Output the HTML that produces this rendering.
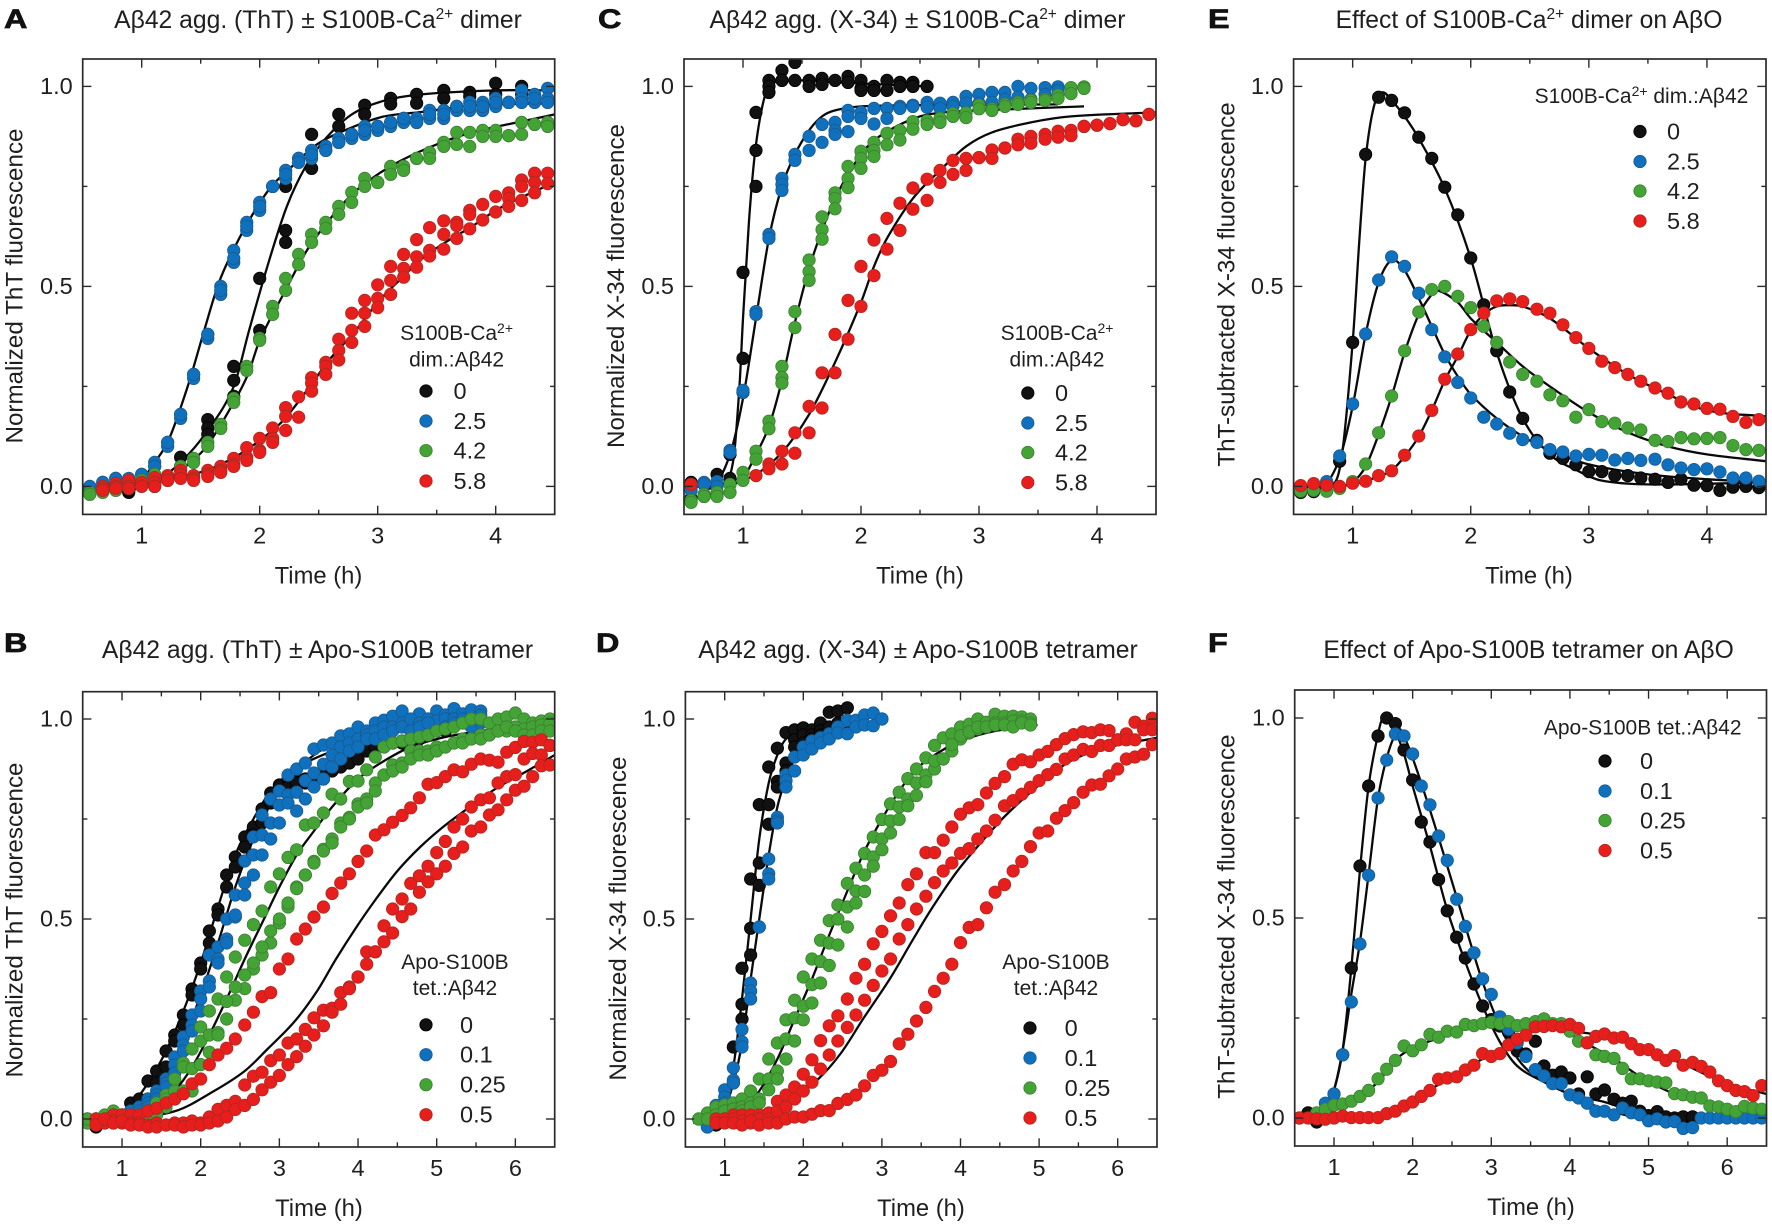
<!DOCTYPE html>
<html lang="en">
<head>
<meta charset="utf-8">
<title>Aβ42 aggregation kinetics with S100B</title>
<style>
html,body{margin:0;padding:0;background:#fff;width:1772px;height:1227px;overflow:hidden}
svg{display:block}
text{font-family:"Liberation Sans",Arial,sans-serif;fill:#1f1f1f}
.title{font-size:24.7px;text-anchor:middle}
.ylab{font-size:24.2px;text-anchor:middle}
.lt{font-size:21px;text-anchor:middle}
.letter{font-size:27px;font-weight:bold;fill:#111;stroke:#111;stroke-width:.7px}
</style>
</head>
<body>
<svg id="fig" xmlns="http://www.w3.org/2000/svg" width="1772" height="1227" viewBox="0 0 1772 1227">
<rect width="1772" height="1227" fill="#fff"/>
<defs>
<clipPath id="clip-A"><rect x="82.7" y="59" width="472" height="455.4"/></clipPath>
<clipPath id="clip-B"><rect x="82.7" y="691.7" width="472" height="455.3"/></clipPath>
<clipPath id="clip-C"><rect x="684" y="59" width="472" height="455.4"/></clipPath>
<clipPath id="clip-D"><rect x="685.4" y="691.7" width="471.6" height="455.3"/></clipPath>
<clipPath id="clip-E"><rect x="1293.6" y="59" width="472.4" height="455.4"/></clipPath>
<clipPath id="clip-F"><rect x="1294.7" y="690" width="471.8" height="456"/></clipPath>
</defs>

<text class="letter" x="0" y="0" transform="translate(4 28) scale(1.2 1)">A</text>
<text class="letter" x="0" y="0" transform="translate(598 28) scale(1.2 1)">C</text>
<text class="letter" x="0" y="0" transform="translate(1208 28) scale(1.2 1)">E</text>
<text class="letter" x="0" y="0" transform="translate(4 652) scale(1.2 1)">B</text>
<text class="letter" x="0" y="0" transform="translate(596 652) scale(1.2 1)">D</text>
<text class="letter" x="0" y="0" transform="translate(1208 652) scale(1.2 1)">F</text>

<text class="title" x="318" y="28">Aβ42 agg. (ThT) ± S100B-Ca<tspan dy="-9" font-size="15.5">2+</tspan><tspan dy="9"> dimer</tspan></text>
<text class="title" x="917.5" y="28">Aβ42 agg. (X-34) ± S100B-Ca<tspan dy="-9" font-size="15.5">2+</tspan><tspan dy="9"> dimer</tspan></text>
<text class="title" x="1529" y="28">Effect of S100B-Ca<tspan dy="-9" font-size="15.5">2+</tspan><tspan dy="9"> dimer on AβO</tspan></text>
<text class="title" x="317.5" y="658">Aβ42 agg. (ThT) ± Apo-S100B tetramer</text>
<text class="title" x="918" y="658">Aβ42 agg. (X-34) ± Apo-S100B tetramer</text>
<text class="title" x="1528.6" y="658">Effect of Apo-S100B tetramer on AβO</text>

<text class="ylab" transform="translate(22.5 286) rotate(-90)">Normalized ThT fluorescence</text>
<text class="ylab" transform="translate(624 286) rotate(-90)">Normalized X-34 fluorescence</text>
<text class="ylab" transform="translate(1234.5 284.5) rotate(-90)">ThT-subtracted X-34 fluorescence</text>
<text class="ylab" transform="translate(22.5 920) rotate(-90)">Normalized ThT fluorescence</text>
<text class="ylab" transform="translate(626 918.6) rotate(-90)">Normalized X-34 fluorescence</text>
<text class="ylab" transform="translate(1234.5 916.6) rotate(-90)">ThT-subtracted X-34 fluorescence</text>

<g id="plots"></g>

<text class="lt" x="456.6" y="340">S100B-Ca<tspan dy="-7" font-size="14">2+</tspan></text>
<text class="lt" x="456.6" y="366.5">dim.:Aβ42</text>
<text class="lt" x="1057" y="340">S100B-Ca<tspan dy="-7" font-size="14">2+</tspan></text>
<text class="lt" x="1057" y="366.5">dim.:Aβ42</text>
<text class="lt" x="1641.5" y="103">S100B-Ca<tspan dy="-7" font-size="14">2+</tspan><tspan dy="7"> dim.:Aβ42</tspan></text>
<text class="lt" x="455" y="969">Apo-S100B</text>
<text class="lt" x="455" y="995">tet.:Aβ42</text>
<text class="lt" x="1056" y="969">Apo-S100B</text>
<text class="lt" x="1056" y="995">tet.:Aβ42</text>
<text class="lt" x="1642.7" y="734.5">Apo-S100B tet.:Aβ42</text>
</svg>

<script>
// ---------- shared axis / label data ----------
const _ = null;
const times = [.56,.67,.78,.89,1.0,1.11,1.22,1.33,1.44,1.56,1.67,1.78,1.89,2.0,2.11,2.22,2.33,2.44,2.56,2.67,2.78,2.89,3.0,3.11,3.22,3.33,3.44,3.56,3.67,3.78,3.89,4.0,4.11,4.22,4.33,4.44,4.56,4.67,4.78,4.89,5.0,5.11,5.22,5.33,5.44,5.56,5.67,5.78,5.89,6.0,6.11,6.22,6.33,6.44];
const yTicks = [0, 0.5, 1];
const yMinorTicks = [0.25, 0.75];
const yTickLabels = ['0.0', '0.5', '1.0'];
const xTicksShort = [1, 2, 3, 4];
const xMinorShort = [1.5, 2.5, 3.5];
const xTicksLong = [1, 2, 3, 4, 5, 6];
const xMinorLong = [1.5, 2.5, 3.5, 4.5, 5.5];
const legendDimer = ['0', '2.5', '4.2', '5.8'];
const legendTetramer = ['0', '0.1', '0.25', '0.5'];

// ---------- panel A ----------
const aBlackT = [.89,1.11,1.33,1.56,1.78,2.0,2.22,2.44,2.67,2.89,3.11,3.33,3.56,3.78,4.0,4.22];
const aBlack = [
 [-.015,0,.073,.167,.30,.52,.75,.88,.93,.953,.97,.98,.99,.985,1.008,1.0],
 [-.01,.005,.05,.146,.265,.39,.64,.795,.90,.93,.956,.958,.97,.975,.98,.98],
 [_,_,_,.13,.225,_,.61]];
const aBlue = [
 [-.01,.01,.02,.02,.03,.06,.11,.18,.28,.38,.50,.59,.66,.71,.75,.79,.82,.84,.85,.87,.88,.90,.90,.91,.92,.92,.94,.94,.95,.96,.96,.97,.96,.99,.98,.995],
 [-.01,0,.01,.01,.02,.05,.10,.17,.27,.37,.48,.56,.64,.69,.75,.77,.82,.82,.84,.86,.87,.88,.89,.90,.91,.91,.92,.92,.94,.94,.94,.95,.96,.97,.96,.97],
 [0,.01,.02,.01,.03,.05,.11,.18,.28,.38,.49,.57,.65,.70,.75,.78,.81,.83,.84,.86,.88,.89,.90,.91,.92,.91,.93,.93,.95,.95,.95,.96,.96,.96,.97,.96]];
const aGreen = [
 [-.015,-.012,-.005,0,.015,.03,.025,.05,.07,.11,.155,.22,.30,.37,.45,.52,.58,.63,.66,.70,.735,.77,.76,.80,.80,.82,.835,.86,.885,.885,.89,.89,.877,.91,.905,.91],
 [-.02,-.015,-.01,-.005,.005,.02,.015,.04,.06,.10,.145,.21,.29,.365,.43,.49,.555,.61,.645,.68,.71,.75,.76,.78,.79,.82,.82,.85,.855,.85,.875,.875,.877,.88,.905,.90]];
const aRedT = times.slice(1, 36);
const aRed = [
 [0,.007,.015,.01,.022,.027,.04,.027,.04,.05,.07,.097,.12,.146,.197,.224,.272,.31,.368,.433,.465,.504,.55,.58,.617,.647,.664,.66,.69,.705,.725,.734,.766,.783,.783],
 [-.005,0,0,.01,.01,.022,.03,.02,.03,.04,.055,.073,.09,.12,.175,.173,.258,.30,.34,.39,.433,.47,.515,.545,.574,.59,.63,.652,.68,.666,.686,.72,.75,.76,.757],
 [-.01,-.005,-.005,0,0,.015,.02,.015,.025,.035,.05,.065,.085,.11,.14,_,.238,.28,.316,.36,.40,.447,.48,.523,.548,.576,.593,.62,.644,_,_,.70,.715,.734,_]];
const aBlackFitT = [.56,.89,1.1,1.33,1.56,1.78,1.91,2.07,2.23,2.39,2.56,2.78,3.04,3.37,4.0,4.5];
const aBlackFitY = [-.01,-.01,.01,.06,.14,.25,.39,.555,.70,.80,.87,.93,.963,.98,.99,.99];
const aBlueFitT = [.56,1.0,1.11,1.23,1.39,1.52,1.65,1.78,1.94,2.1,2.3,2.49,2.72,3.04,3.37,3.85,4.5];
const aBlueFitY = [0,.02,.06,.117,.25,.38,.506,.593,.68,.75,.807,.856,.89,.924,.936,.953,.958];
const aGreenFitT = [.9,1.2,1.33,1.55,1.78,1.9,2.0,2.2,2.4,2.6,2.8,3.0,3.2,3.5,3.8,4.1,4.5];
const aGreenFitY = [.005,.015,.04,.10,.21,.28,.365,.48,.59,.67,.735,.78,.815,.855,.885,.905,.93];
const aRedFitT = [.56,1.0,1.33,1.55,1.8,2.0,2.2,2.4,2.6,2.8,3.0,3.2,3.4,3.6,3.8,4.0,4.2,4.5];
const aRedFitY = [-.01,.005,.025,.04,.075,.115,.165,.24,.32,.385,.46,.52,.575,.615,.65,.69,.72,.76];

// ---------- panel C ----------
const cBlackT = times.slice(0, 19);
const cBlack = [
 [.01,.005,.03,.08,.535,.935,1.015,1.04,1.06,1.015,1.02,1.015,1.025,1.015,1.0,1.015,1.01,1.01,1.0],
 [0,-.025,-.02,.02,.32,.84,1.0,1.015,1.015,1.0,1.005,_,1.01,.995,.99,.99,1.0,1.0,_],
 [-.03,_,_,_,.235,.75,.985,_,_,_,_,_,_,.99]];
const cBlueT = times.slice(0, 29);
const cBlue = [
 [0,.01,.012,.09,.235,.437,.63,.77,.83,.875,.905,.91,.94,.935,.945,.945,.95,.953,.96,.958,.96,.975,.98,.985,.985,1.0,.995,.997,.999],
 [-.01,.005,0,.085,.24,.43,.62,.755,.815,.84,.86,.89,.925,.92,.906,.92,.945,.95,.948,.945,.95,.958,.958,.96,.968,.973,.968,.98,.99],
 [_,_,_,_,_,_,_,.74,_,_,_,.88,.887]];
const cGreenT = times.slice(0, 31);
const cGreen = [
 [-.035,-.02,-.015,.005,.035,.088,.163,.30,.437,.566,.674,.734,.80,.838,.86,.883,.89,.912,.914,.92,.932,.934,.953,.944,.955,.96,.965,.968,.978,.997,.999],
 [-.04,-.025,-.025,-.015,.015,.068,.144,.272,.397,.537,.642,.72,.77,.82,.84,.854,.866,.893,.905,.91,.925,.922,.944,.94,.95,.955,.96,.965,.97,.982,.995],
 [_,_,_,_,_,_,_,.258,_,.515,.618,.694,.747,.795,.825]];
const cRed = [
 [.005,_,_,_,_,.027,.056,.088,.134,.20,.284,.38,.465,.55,.616,.67,.708,.746,.768,.79,.815,.82,.822,.841,.846,.868,.875,.88,.888,.89,.90,.903,.907,.917,.914,.93],
 [_,_,_,_,_,_,.044,.056,.083,.134,.196,.284,.368,.45,.527,.593,.64,.693,.715,.76,.78,.79,.822,.82,.846,.854,.858,.868,.873,.877,.90,.903,.907,.917,.914,.93]];
const cBlackFitT = [.6,.85,.92,.97,1.0,1.05,1.1,1.16,1.22,1.4,1.8,2.56];
const cBlackFitY = [0,.01,.07,.25,.42,.66,.83,.945,1.0,1.015,1.01,1.0];
const cBlueFitT = [.6,.75,.89,1.0,1.11,1.22,1.33,1.44,1.56,1.67,1.78,2.0,2.5,3.67];
const cBlueFitY = [0,0,.08,.22,.42,.62,.75,.83,.89,.925,.94,.95,.953,.955];
const cGreenFitT = [.89,1.0,1.11,1.22,1.33,1.44,1.56,1.67,1.78,1.89,2.0,2.11,2.3,2.5,2.7,3.0,3.89];
const cGreenFitY = [0,.02,.08,.15,.265,.41,.545,.64,.72,.78,.83,.865,.90,.925,.935,.94,.95];
const cRedFitT = [.9,1.11,1.33,1.56,1.78,2.0,2.11,2.22,2.44,2.67,2.89,3.11,3.44,3.78,4.5];
const cRedFitY = [.005,.03,.085,.18,.31,.46,.55,.62,.72,.79,.85,.885,.91,.925,.935];

// ---------- panel E ----------
const eBlack = [[-.015,-.013,.01,.063,.36,.83,.973,.965,.934,.873,.82,.748,.679,.571,.454,.339,.236,.17,.115,.083,.07,.054,.037,.037,.027,.027,.021,.018,.01,.018,.003,.002,-.01,-.002,0,-.003]];
const eBlue = [[_,_,.012,.076,.206,.381,.516,.574,.55,.483,.392,.324,.26,.221,.173,.156,.133,.117,.11,.092,.086,.076,.08,.078,.066,.07,.065,.068,.054,.046,.042,.044,.036,.021,.021,.013]];
const eGreen = [[-.012,-.01,-.012,-.005,.012,.056,.134,.226,.339,.436,.492,.50,.475,.447,.40,.36,.311,.28,.263,.229,.214,.173,.192,.162,.158,.146,.141,.115,.112,.122,.119,.12,.122,.102,.092,.09]];
const eRed = [[.002,.007,.003,0,.008,.013,.027,.039,.078,.126,.19,.268,.331,.392,.433,.464,.469,.462,.443,.433,.404,.372,.345,.313,.297,.28,.263,.246,.233,.211,.206,.195,.193,.175,.16,.167]];
const eBlackFitT = [.56,.8,.9,1.0,1.06,1.11,1.18,1.25,1.33,1.44,1.56,1.78,2.0,2.22,2.44,2.67,2.9,3.1,3.5,4.5];
const eBlackFitY = [0,0,.06,.36,.63,.82,.95,.985,.965,.925,.87,.745,.57,.335,.17,.08,.04,.015,.005,.01];
const eBlueFitT = [.56,.75,.89,1.0,1.11,1.22,1.33,1.44,1.56,1.67,1.78,1.89,2.0,2.22,2.44,2.67,3.0,3.5,4.0,4.5];
const eBlueFitY = [0,0,.07,.2,.38,.51,.565,.54,.47,.40,.33,.275,.23,.17,.125,.09,.055,.03,.018,.01];
const eGreenFitT = [.56,.9,1.0,1.11,1.22,1.33,1.44,1.56,1.67,1.72,1.89,2.0,2.22,2.44,2.67,3.0,3.33,3.67,4.0,4.5];
const eGreenFitY = [0,0,.01,.05,.13,.225,.335,.43,.48,.49,.46,.42,.36,.30,.25,.185,.135,.10,.08,.063];
const eRedFitT = [.56,1.0,1.22,1.33,1.44,1.56,1.67,1.78,1.89,2.0,2.11,2.22,2.33,2.44,2.67,3.0,3.33,3.67,4.0,4.5];
const eRedFitY = [0,.005,.025,.04,.075,.125,.19,.265,.325,.39,.43,.45,.453,.45,.42,.345,.28,.23,.19,.175];

// ---------- panel B ----------
const bBlack = [
 [_,-.02,0,0,.01,.04,.05,.095,.12,.17,.21,.26,.325,.39,.47,.525,.61,.655,.705,.73,.775,.815,.835,.85,.85,.85,.85,.86,.88,.89,.90,.925,.93,.93,.94,.94,.945,.95,.96,.97,.98,.98],
 [_,-.01,0,.01,.01,.02,.03,.05,.09,.13,.195,.235,.31,.375,.44,.51,.58,.63,.68,.71,.74,.79,.82,.83,.84,.84,.85,.85,.87,.88,.89,.90,.92,.93,.93,.94,.94,.95,.95,.96,.97,.97]];
const bBlue = [
 [0,0,0,0,.01,.02,.03,.05,.07,.10,.155,.205,.26,.32,.41,.43,.50,.56,.645,.705,.76,.80,.82,.86,.875,.89,.925,.935,.94,.958,.963,.98,.97,.99,.997,1.007,1.02,.99,1.013,1.0,1.02,1.01,1.026,1.013,1.023,1.02],
 [0,0,0,0,0,.01,.02,.04,.06,.09,.135,.185,.235,.30,.345,.40,.45,.505,.59,.66,.71,.74,.785,.81,.817,.846,.865,.887,.91,.93,.94,.95,.96,.97,.98,.98,.99,1.0,.99,1.0,.995,1.0,1.0,1.0,1.0,1.01],
 [0,0,0,0,0,0,.01,.03,.05,.08,.115,.17,.22,.27,.33,.39,.44,.51,.56,.61,.66,.70,.74,.79,.77,.80,.83,.85,.88,.90,.92,.93,.95,.95,.96,.97,.98,.97,.98,.99,.97,.98,.99,.99,.98,.99]];
const bGreen = [
 [0,0,.01,.02,.01,.01,.01,.02,.04,.06,.10,.14,.175,.23,.27,.30,.355,.405,.447,.486,.52,.58,.613,.654,.673,.735,.74,.765,.812,.80,.844,.845,.873,.905,.93,.94,.945,.95,.955,.96,.97,.975,.98,.99,1.0,1.0,.99,1.0,1.005,1.015,1.0,.99,.995,1.0],
 [-.01,0,0,0,0,0,0,.01,.02,.05,.07,.13,.126,.195,.21,.216,.25,.297,.326,.375,.41,.44,.49,.53,.58,.61,.644,.674,.70,.74,.754,.788,.80,.84,.86,.885,.89,.92,.92,.92,.93,.93,.94,.95,.95,.96,.96,.97,.97,.98,.975,.98,.985,.99],
 [0,0,-.01,-.01,0,0,0,0,.01,.03,.05,.07,.07,.136,.167,.21,.294,.33,.36,.39,.43,.47,.50,.54,.576,.61,.64,.67,.69,.73,.75,.78,.79,.82,.86,.87,.88,.90,.91,.91,.92,.93,.94,.94,.95,.95,.96,.97,.98,.97,.96,.96,.97,.97]];
const bRedT = times.slice(1);
const bRed = [
 [0,0,.01,.01,.01,.01,.02,.027,.04,.05,.063,.088,.10,.136,.16,.177,.20,.235,.267,.306,.316,.375,.40,.45,.475,.505,.53,.564,.59,.613,.644,.67,.71,.723,.742,.759,.778,.803,.837,.841,.856,.873,.868,.887,.90,.897,.892,.917,.929,.944,.942,.948,.934],
 [0,-.01,-.005,-.01,-.01,-.01,-.015,-.01,-.015,-.01,-.01,-.005,-.01,.005,.024,.034,.044,.085,.107,.117,.146,.16,.19,.20,.224,.253,.272,.277,.316,.33,.355,.418,.418,.483,.525,.55,.589,.608,.632,.666,.694,.73,.75,.78,.798,.803,.84,.856,.861,.90,.914,.91,.934],
 [-.015,0,-.01,-.005,-.015,-.015,-.02,-.02,-.015,-.015,-.02,-.015,-.015,-.01,-.005,.005,.024,.034,.049,.073,.092,.109,.136,.156,.182,.21,.233,.267,.287,.326,.355,.387,.418,.443,.465,.506,.525,.567,.593,.613,.632,.664,.68,.72,.73,.76,.773,.798,.822,.832,.856,.883,.885]];
const bBlackFitT = [.9,1.1,1.33,1.56,1.78,2.0,2.22,2.44,2.67,2.89,3.11,3.33,3.67,4.0,4.5,5.2];
const bBlackFitY = [0,.03,.09,.17,.27,.39,.53,.66,.75,.82,.86,.89,.92,.95,.97,.99];
const bBlueFitT = [1.0,1.33,1.56,1.78,2.0,2.22,2.44,2.67,2.89,3.11,3.44,3.89,4.5,5.6];
const bBlueFitY = [0,.05,.11,.20,.31,.44,.58,.70,.79,.85,.91,.96,.985,1.0];
const bGreenFitT = [1.1,1.44,1.67,1.89,2.11,2.33,2.56,2.78,3.0,3.22,3.44,3.67,4.0,4.33,4.67,5.11,5.56,6.5];
const bGreenFitY = [0,.03,.07,.13,.21,.30,.40,.49,.58,.66,.72,.78,.85,.895,.93,.955,.97,.995];
const bRedFitT = [1.0,1.68,2.17,2.56,2.85,3.19,3.48,3.72,3.97,4.21,4.5,4.79,5.08,5.37,5.76,6.15,6.5];
const bRedFitY = [0,.02,.07,.12,.175,.243,.32,.40,.477,.545,.62,.68,.73,.773,.827,.87,.91];

// ---------- panel D ----------
const dBlackT = times.slice(3, 19);
const dBlack = [
 [-.015,.03,.18,.377,.60,.786,.88,.927,.966,.973,.978,.973,.99,1.017,1.02,1.028],
 [-.01,.02,.09,.287,.477,.64,.786,.844,.89,.948,.96,.96,.97,.98,.99],
 [_,_,_,.25,.41,.584,.737,.83,.87,.93,.94,.95,.96]];
const dBlueT = times.slice(2, 23);
const dBlue = [
 [-.02,.034,.073,.128,.224,.34,.48,.65,.754,.86,.905,.93,.945,.953,.963,.98,.997,.997,1.01,1.015,1.0],
 [-.015,.02,.055,.097,.193,.32,.48,.613,.745,.846,.87,.91,.925,.94,.95,.965,.963,.98,.985,.983,1.0],
 [-.02,.01,.04,.09,.18,.30,_,.60,.74,.83]];
const dGreenT = times.slice(1, 41);
const dGreen = [
 [0,.015,.03,.035,.04,.05,.07,.10,.15,.19,.20,.297,.355,.40,.447,.496,.535,.589,.627,.664,.705,.749,.788,.817,.851,.875,.903,.934,.953,.963,.98,.987,1.0,.992,1.012,1.007,1.007,1.005,1.0,_],
 [0,0,.01,.02,.025,.03,.04,.05,.10,.12,.248,.253,.282,.336,.394,.44,.50,.53,.57,.61,.655,.70,.745,.78,.80,.84,.86,.875,.90,.92,.95,.965,.975,.98,.99,.99,.995,.995,.99,_],
 [0,0,0,0,.01,.02,.03,.04,.073,.10,.15,.195,.248,.29,.34,.384,.435,.48,.54,.569,.632,.673,.715,.749,.783,.809,.843,.895,.90,.936,.958,.968,.98,.98,.985,.985,.98,.99,.985,_]];
const dRedT = times.slice(3);
const dRed = [
 [0,0,.01,.01,.01,.01,.015,.044,.06,.08,.112,.148,.196,.233,.258,.30,.352,.387,.438,.469,.508,.54,.586,.613,.666,.666,.697,.73,.762,.778,.786,.815,.839,.856,.887,.898,.893,.91,.919,.936,.951,.961,.968,.966,.973,.971,.948,.963,.992,.982,1.002],
 [0,0,0,-.005,-.01,0,0,.02,.03,.05,.07,.092,.125,.16,.195,.229,.26,.297,.334,.37,.40,.45,.486,.525,.557,.591,.62,.64,.664,.676,.70,.72,.747,.783,.796,.812,.829,.846,.861,.874,.90,.91,.924,.919,.934,.934,.948,.948,.948,.973,.973],
 [-.01,-.01,-.01,-.015,-.005,-.015,-.01,-.01,0,.005,.005,.012,.021,.021,.039,.049,.06,.083,.109,.122,.144,.188,.212,.245,.279,.319,.352,.387,.441,.479,.486,.528,.567,.586,.62,.644,.681,.715,.72,.752,.771,.791,.817,.835,.837,.858,.875,.90,.905,.912,.936]];
const dBlackFitT = [.6,.89,1.0,1.11,1.22,1.33,1.44,1.56,1.67,1.78,2.0,2.56];
const dBlackFitY = [-.01,0,.03,.13,.30,.50,.70,.84,.91,.95,.975,.99];
const dBlueFitT = [.7,1.0,1.11,1.22,1.33,1.44,1.56,1.67,1.78,1.89,2.0,2.3,3.0];
const dBlueFitY = [-.01,.03,.09,.19,.35,.50,.66,.78,.85,.90,.925,.965,.995];
const dGreenFitT = [.9,1.2,1.44,1.67,1.89,2.11,2.33,2.56,2.78,3.0,3.22,3.44,3.67,4.0,4.44,4.98];
const dGreenFitY = [0,.02,.07,.15,.25,.35,.46,.57,.67,.75,.82,.875,.91,.945,.97,.985];
const dRedFitT = [1.0,1.78,2.19,2.48,2.77,3.1,3.39,3.63,3.96,4.3,4.58,4.97,5.4,5.88,6.5];
const dRedFitY = [0,.04,.10,.165,.253,.35,.447,.525,.62,.70,.76,.83,.895,.929,.953];

// ---------- panel F ----------
const fBlackT = times.slice(0, 46);
const fBlack = [[0,.013,-.01,.02,.06,.158,.375,.63,.83,.955,1.0,.986,.92,.845,.74,.69,.596,.518,.452,.40,.335,.28,.246,.23,.214,.168,.16,.192,.13,.107,.115,.10,.06,.103,.06,.07,.047,.037,.042,.017,.006,.016,.003,0,.003,.003]];
const fBlueT = times.slice(3);
const fBlue = [[.037,.06,.158,.29,.435,.607,.80,.895,.96,.955,.91,.83,.783,.705,.644,.547,.479,.413,.348,.309,.253,.222,.188,.154,.121,.105,.086,.086,.058,.05,.037,.017,.017,.008,.025,.013,.008,-.007,-.002,-.01,-.009,-.026,-.024,0,0,0,0,0,0,0,0]];
const fGreenT = times.slice(2);
const fGreen = [[.013,.022,.032,.035,.042,.054,.069,.098,.122,.144,.18,.168,.183,.209,.202,.217,.215,.234,.231,.236,.239,.236,.241,.231,.236,.241,.248,.236,.236,.217,.192,.188,.158,.154,.149,.124,.098,.098,.093,.09,.088,.061,.058,.052,.05,.03,.028,.022,.016,.029,.025,.022]];
const fRed = [[0,0,-.002,-.003,0,.005,.001,.001,.001,.001,.011,.017,.03,.04,.054,.069,.097,.10,.103,.12,.132,.161,.154,.161,.183,.197,.207,.228,.229,.231,.228,.234,.224,.188,.204,.21,.20,.202,.186,.171,.171,.158,.144,.156,.132,.139,.129,.115,.093,.081,.069,.066,.056,.081]];
const fBlackFitT = [.56,.88,1.0,1.11,1.22,1.33,1.44,1.56,1.62,1.72,1.89,2.0,2.22,2.44,2.67,2.89,3.11,3.33,3.67,4.0,4.44,5.0,5.55];
const fBlackFitY = [0,.02,.07,.17,.375,.62,.83,.96,1.0,.995,.91,.83,.68,.52,.39,.28,.19,.13,.09,.06,.04,.005,0];
const fBlueFitT = [.75,.89,1.0,1.11,1.22,1.33,1.44,1.56,1.67,1.78,1.85,2.0,2.22,2.44,2.67,2.89,3.11,3.33,3.55,3.88,4.33,4.88,5.5,6.5];
const fBlueFitY = [0,.02,.07,.17,.31,.44,.61,.80,.90,.96,.97,.90,.77,.63,.48,.34,.23,.15,.105,.07,.03,0,-.01,0];
const fGreenFitT = [.56,.88,1.22,1.56,1.78,2.0,2.33,2.67,3.0,3.55,3.88,4.22,4.55,4.88,5.33,5.77,6.5];
const fGreenFitY = [0,.01,.04,.09,.145,.175,.20,.225,.24,.24,.225,.185,.15,.105,.06,.035,.015];
const fRedFitT = [.56,1.44,1.78,2.11,2.44,2.77,3.11,3.44,3.77,4.11,4.44,4.77,5.11,5.44,5.77,6.11,6.5];
const fRedFitY = [0,0,.02,.06,.095,.135,.17,.21,.225,.215,.205,.185,.16,.135,.105,.08,.06];

// ---------- panels: layout, then series references ----------
const seriesColors = ['#111111', '#0f70bd', '#43a435', '#e81e1c'];
const seriesEdges = ['#000000', '#1a5a8e', '#3d7d33', '#a82a22'];
const seriesNames = ['black', 'blue', 'green', 'red'];

const panels = [
 {id:'a', clip:'clip-A', left:82.7, right:554.7, top:59, bottom:514.4, y0:486.4, y1:86.4, xMin:.5, xMax:4.5, xt:xTicksShort, xm:xMinorShort,
  series:[{t:aBlackT,r:aBlack,ft:aBlackFitT,fy:aBlackFitY},{t:times,r:aBlue,ft:aBlueFitT,fy:aBlueFitY},{t:times,r:aGreen,ft:aGreenFitT,fy:aGreenFitY},{t:aRedT,r:aRed,ft:aRedFitT,fy:aRedFitY}],
  legend:legendDimer, lx:426, ly:[391,421,450.6,481], ltx:453.5, xtitle:318.5},
 {id:'b', clip:'clip-B', left:82.7, right:554.7, top:691.7, bottom:1147, y0:1119, y1:719, xMin:.5, xMax:6.5, xt:xTicksLong, xm:xMinorLong,
  series:[{t:times,r:bBlack,ft:bBlackFitT,fy:bBlackFitY},{t:times,r:bBlue,ft:bBlueFitT,fy:bBlueFitY},{t:times,r:bGreen,ft:bGreenFitT,fy:bGreenFitY},{t:bRedT,r:bRed,ft:bRedFitT,fy:bRedFitY}],
  legend:legendTetramer, lx:426, ly:[1024.8,1054.7,1084.7,1114.7], ltx:460, xtitle:319},
 {id:'c', clip:'clip-C', left:684, right:1156, top:59, bottom:514.4, y0:486.4, y1:86.4, xMin:.5, xMax:4.5, xt:xTicksShort, xm:xMinorShort,
  series:[{t:cBlackT,r:cBlack,ft:cBlackFitT,fy:cBlackFitY},{t:cBlueT,r:cBlue,ft:cBlueFitT,fy:cBlueFitY},{t:cGreenT,r:cGreen,ft:cGreenFitT,fy:cGreenFitY},{t:times,r:cRed,ft:cRedFitT,fy:cRedFitY}],
  legend:legendDimer, lx:1027.8, ly:[393,423,452.5,482.5], ltx:1055, xtitle:920},
 {id:'d', clip:'clip-D', left:685.4, right:1157, top:691.7, bottom:1147, y0:1119, y1:719, xMin:.5, xMax:6.5, xt:xTicksLong, xm:xMinorLong,
  series:[{t:dBlackT,r:dBlack,ft:dBlackFitT,fy:dBlackFitY},{t:dBlueT,r:dBlue,ft:dBlueFitT,fy:dBlueFitY},{t:dGreenT,r:dGreen,ft:dGreenFitT,fy:dGreenFitY},{t:dRedT,r:dRed,ft:dRedFitT,fy:dRedFitY}],
  legend:legendTetramer, lx:1030, ly:[1028,1058,1088,1118], ltx:1064.6, xtitle:921},
 {id:'e', clip:'clip-E', left:1293.6, right:1766, top:59, bottom:514.4, y0:486.4, y1:86.4, xMin:.5, xMax:4.5, xt:xTicksShort, xm:xMinorShort,
  series:[{t:times,r:eBlack,ft:eBlackFitT,fy:eBlackFitY},{t:times,r:eBlue,ft:eBlueFitT,fy:eBlueFitY},{t:times,r:eGreen,ft:eGreenFitT,fy:eGreenFitY},{t:times,r:eRed,ft:eRedFitT,fy:eRedFitY}],
  legend:legendDimer, lx:1640, ly:[131.5,161.5,191,221], ltx:1667, xtitle:1529},
 {id:'f', clip:'clip-F', left:1294.7, right:1766.5, top:690, bottom:1146, y0:1118, y1:718, xMin:.5, xMax:6.5, xt:xTicksLong, xm:xMinorLong,
  series:[{t:fBlackT,r:fBlack,ft:fBlackFitT,fy:fBlackFitY},{t:fBlueT,r:fBlue,ft:fBlueFitT,fy:fBlueFitY},{t:fGreenT,r:fGreen,ft:fGreenFitT,fy:fGreenFitY},{t:times,r:fRed,ft:fRedFitT,fy:fRedFitY}],
  legend:legendTetramer, lx:1605, ly:[761,791,820.5,850.5], ltx:1640, xtitle:1531}
];

const NS = 'http://www.w3.org/2000/svg';
const root = document.getElementById('plots');

function mk(tag, parent, attrs) {
  const el = document.createElementNS(NS, tag);
  for (const k in attrs) el.setAttribute(k, attrs[k]);
  parent.appendChild(el);
  return el;
}

// smooth path through the read fit samples: y(x) cubic Hermite with finite-difference slopes
function smoothPath(pts) {
  const n = pts.length;
  const slope = pts.map(function (p, i) {
    const a = pts[Math.max(0, i - 1)], b = pts[Math.min(n - 1, i + 1)];
    return (b[1] - a[1]) / (b[0] - a[0]);
  });
  let d = 'M' + pts[0][0].toFixed(2) + ' ' + pts[0][1].toFixed(2);
  for (let i = 0; i < n - 1; i++) {
    const p1 = pts[i], p2 = pts[i + 1], dx = (p2[0] - p1[0]) / 3;
    d += 'C' + (p1[0] + dx).toFixed(2) + ' ' + (p1[1] + slope[i] * dx).toFixed(2) + ' ' +
         (p2[0] - dx).toFixed(2) + ' ' + (p2[1] - slope[i + 1] * dx).toFixed(2) + ' ' +
         p2[0].toFixed(2) + ' ' + p2[1].toFixed(2);
  }
  return d;
}

panels.forEach(function (p) {
  const sx = function (t) { return p.left + (t - p.xMin) * (p.right - p.left) / (p.xMax - p.xMin); };
  const sy = function (v) { return p.y0 + (p.y1 - p.y0) * v; };

  const g = mk('g', root, {});
  
  

  const plot = mk('g', g, {'clip-path': 'url(#' + p.clip + ')'});
  
  

  // fit curves sit behind the markers
  p.series.forEach(function (s, i) {
    const pts = s.ft.map(function (t, k) { return [sx(t), sy(s.fy[k])]; });
    const line = mk('path', plot, {d: smoothPath(pts), fill: 'none', stroke: '#0a0a0a', 'stroke-width': 2.3});
    
    
  });

  // measured points
  p.series.forEach(function (s, i) {
    s.r.forEach(function (rep, ri) {
      rep.forEach(function (v, k) {
        if (v === null || v === undefined || k >= s.t.length) return;
        const dot = mk('circle', plot, {cx: sx(s.t[k]).toFixed(2), cy: sy(v).toFixed(2), r: 6.2, fill: seriesColors[i], stroke: seriesEdges[i], 'stroke-width': .8});
        
        
      });
    });
  });

  // frame
  const frame = mk('rect', g, {x: p.left, y: p.top, width: p.right - p.left, height: p.bottom - p.top, fill: 'none', stroke: '#2a2a2a', 'stroke-width': 1.7});
  
  

  // ticks
  const ticks = mk('g', g, {stroke: '#2a2a2a', 'stroke-width': 1.4});
  
  
  function xTick(t, len) {
    mk('line', ticks, {x1: sx(t), x2: sx(t), y1: p.bottom, y2: p.bottom - len});
    mk('line', ticks, {x1: sx(t), x2: sx(t), y1: p.top, y2: p.top + len});
  }
  function yTick(v, len) {
    mk('line', ticks, {y1: sy(v), y2: sy(v), x1: p.left, x2: p.left + len});
    mk('line', ticks, {y1: sy(v), y2: sy(v), x1: p.right, x2: p.right - len});
  }
  p.xt.forEach(function (t) { xTick(t, 8.7); });
  p.xm.forEach(function (t) { xTick(t, 4.7); });
  yTicks.forEach(function (v) { yTick(v, 8.7); });
  yMinorTicks.forEach(function (v) { yTick(v, 4.7); });

  // tick labels
  p.xt.forEach(function (t) {
    const lab = mk('text', g, {x: sx(t), y: p.bottom + 29, 'font-size': 23.5, 'text-anchor': 'middle'});
    lab.textContent = String(t);
    
    
  });
  yTicks.forEach(function (v, i) {
    const lab = mk('text', g, {x: p.left - 10, y: sy(v) + 7.5, 'font-size': 23.5, 'text-anchor': 'end'});
    lab.textContent = yTickLabels[i];
    
    
  });

  // x-axis title
  const xt = mk('text', g, {x: p.xtitle, y: p.bottom + 69, 'font-size': 23.8, 'text-anchor': 'middle'});
  xt.textContent = 'Time (h)';
  
  

  // legend
  p.legend.forEach(function (label, i) {
    const m = mk('circle', g, {cx: p.lx, cy: p.ly[i], r: 6.2, fill: seriesColors[i], stroke: seriesEdges[i], 'stroke-width': .8});
    
    
    const t = mk('text', g, {x: p.ltx, y: p.ly[i] + 8, 'font-size': 23.5});
    t.textContent = label;
    
    
  });
});
</script>
</body>
</html>
